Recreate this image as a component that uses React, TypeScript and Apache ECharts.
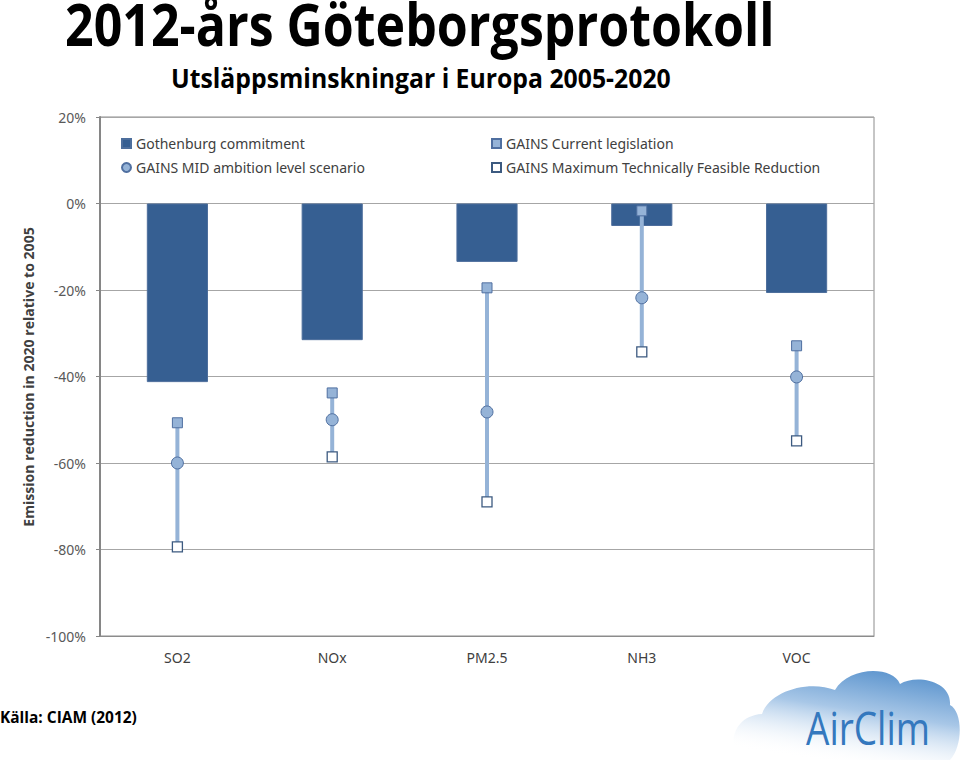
import React, { useEffect, useRef } from "react";
import * as echarts from "echarts";

const categories = ["SO2", "NOx", "PM2.5", "NH3", "VOC"];
const gothenburgCommitment = [-41.3, -31.6, -13.5, -5.2, -20.7];
const currentLegislation = [-50.7, -43.8, -19.5, -1.7, -32.9];
const midAmbition = [-60.0, -50.0, -48.2, -21.8, -40.1];
const maxFeasible = [-79.4, -58.6, -69.0, -34.3, -54.9];
const yMin = -100;
const yMax = 20;
const yStep = 20;

const titleText = "2012-års Göteborgsprotokoll";
const subtitleText = "Utsläppsminskningar i Europa 2005-2020";
const sourceText = "Källa: CIAM (2012)";
const yAxisTitle = "Emission reduction in 2020 relative to 2005";
const logoText = "AirClim";

const seriesNames = {
  bar: "Gothenburg commitment",
  cle: "GAINS Current legislation",
  mid: "GAINS MID ambition level scenario",
  mtfr: "GAINS Maximum Technically Feasible Reduction",
};

const cloudPath =
  "M 745 760 C 726 752 730 716 762 714 C 770 690 810 680 835 690 C 848 667 892 665 900 684 C 915 674 952 680 950 705 C 963 712 963 746 950 760 Z";

let cloudRegistered = false;
function registerCloud() {
  if (cloudRegistered) return;
  echarts.graphic.registerShape("cloud", echarts.graphic.extendPath(cloudPath, {}) as any);
  cloudRegistered = true;
}

function measure(text: string, font: string): number {
  const ctx = document.createElement("canvas").getContext("2d");
  if (!ctx) return text.length * 10;
  ctx.font = font;
  return ctx.measureText(text).width;
}

function fittedText(opts: {
  text: string;
  x: number;
  y: number;
  width: number;
  fontSize: number;
  weight: string;
  family: string;
  color: string;
  align: "left" | "center";
  rotation?: number;
}) {
  const font = `${opts.weight} ${opts.fontSize}px ${opts.family}`;
  const w = measure(opts.text, font);
  return {
    type: "group",
    x: opts.x,
    y: opts.y,
    rotation: opts.rotation || 0,
    scaleX: opts.width / w,
    scaleY: 1,
    children: [
      {
        type: "text",
        x: 0,
        y: 0,
        style: {
          text: opts.text,
          font,
          fill: opts.color,
          textAlign: opts.align,
          textVerticalAlign: "middle",
        },
      },
    ],
  };
}

export default function App() {
  const ref = useRef<HTMLDivElement>(null);

  useEffect(() => {
    if (!ref.current) return;
    registerCloud();
    const chart = echarts.init(ref.current, null, { renderer: "svg" });

    const rangeData = categories.map((_, i) => [i, currentLegislation[i], maxFeasible[i]]);
    const family = '"Open Sans", "Noto Sans", sans-serif';

    const legendText = { fontFamily: "Noto Sans", fontSize: 14, color: "#404040", lineHeight: 17 };

    const option: any = {
      animation: false,
      backgroundColor: "#ffffff",
      grid: {
        left: 100,
        right: 86,
        top: 117,
        bottom: 126,
        show: true,
        borderColor: "#8c8c8c",
        borderWidth: 1,
      },
      legend: [
        {
          left: 116,
          top: 130,
          orient: "vertical",
          itemWidth: 9,
          itemHeight: 9,
          itemGap: 7,
          textStyle: legendText,
          data: [{ name: seriesNames.bar, icon: "rect" }, { name: seriesNames.mid }],
        },
        {
          left: 486,
          top: 130,
          orient: "vertical",
          itemWidth: 9,
          itemHeight: 9,
          itemGap: 7,
          textStyle: legendText,
          data: [{ name: seriesNames.cle }, { name: seriesNames.mtfr }],
        },
      ],
      xAxis: {
        type: "category",
        data: categories,
        axisLine: { onZero: false, show: true, lineStyle: { color: "#8c8c8c", width: 1 } },
        axisTick: { show: false },
        axisLabel: { margin: 14, fontFamily: "Noto Sans", fontSize: 14, color: "#404040" },
        splitLine: { show: false },
      },
      yAxis: {
        type: "value",
        min: yMin,
        max: yMax,
        interval: yStep,
        axisLine: { show: true, lineStyle: { color: "#868686", width: 2 } },
        axisTick: { show: true, length: 4, lineStyle: { color: "#868686", width: 1 } },
        axisLabel: {
          formatter: "{value}%",
          margin: 14,
          fontFamily: "Noto Sans",
          fontSize: 14,
          color: "#595959",
        },
        splitLine: { show: true, lineStyle: { color: "#a6a6a6", width: 1 } },
      },
      series: [
        {
          name: seriesNames.bar,
          type: "bar",
          data: gothenburgCommitment,
          barWidth: "39.5%",
          itemStyle: { color: "#365f92", borderColor: "#4d6e9c", borderWidth: 1 },
          z: 2,
        },
        {
          name: "range",
          type: "custom",
          data: rangeData,
          encode: { x: 0, y: [1, 2] },
          renderItem: (_params: any, api: any) => {
            const a = api.coord([api.value(0), api.value(1)]);
            const b = api.coord([api.value(0), api.value(2)]);
            return {
              type: "line",
              shape: { x1: a[0], y1: a[1], x2: b[0], y2: b[1] },
              style: { stroke: "#95b3d7", lineWidth: 4 },
            };
          },
          z: 3,
        },
        {
          name: seriesNames.cle,
          type: "scatter",
          data: currentLegislation,
          symbol: "rect",
          symbolSize: 10,
          itemStyle: { color: "#95b3d7", borderColor: "#4f6fa0", borderWidth: 1, opacity: 1 },
          z: 4,
        },
        {
          name: seriesNames.mid,
          type: "scatter",
          data: midAmbition,
          symbol: "circle",
          symbolSize: 12,
          itemStyle: { color: "#95b3d7", borderColor: "#4f6fa0", borderWidth: 1, opacity: 1 },
          z: 4,
        },
        {
          name: seriesNames.mtfr,
          type: "scatter",
          data: maxFeasible,
          symbol: "rect",
          symbolSize: 10,
          itemStyle: { color: "#ffffff", borderColor: "#3c5a80", borderWidth: 1.3, opacity: 1 },
          z: 4,
        },
      ],
      graphic: [
        {
          type: "cloud",
          x: 0,
          y: 0,
          z: 0,
          style: {
            fill: new echarts.graphic.LinearGradient(0.75, 0, 0.35, 1, [
              { offset: 0, color: "#5a93cd" },
              { offset: 0.45, color: "#a8c7e7" },
              { offset: 1, color: "rgba(255,255,255,0)" },
            ]),
          },
        },
        fittedText({
          text: titleText,
          x: 65,
          y: 23,
          width: 710,
          fontSize: 59,
          weight: "bold",
          family,
          color: "#000000",
          align: "left",
        }),
        fittedText({
          text: subtitleText,
          x: 171,
          y: 78,
          width: 500,
          fontSize: 27,
          weight: "bold",
          family,
          color: "#000000",
          align: "left",
        }),
        fittedText({
          text: sourceText,
          x: 0,
          y: 717,
          width: 137,
          fontSize: 16,
          weight: "bold",
          family,
          color: "#000000",
          align: "left",
        }),
        fittedText({
          text: yAxisTitle,
          x: 28,
          y: 377,
          width: 300,
          fontSize: 15,
          weight: "bold",
          family,
          color: "#3f3f3f",
          align: "center",
          rotation: Math.PI / 2,
        }),
        fittedText({
          text: logoText,
          x: 806,
          y: 727,
          width: 124,
          fontSize: 46,
          weight: "normal",
          family,
          color: "#3478be",
          align: "left",
        }),
      ],
    };

    chart.setOption(option);
    return () => chart.dispose();
  }, []);

  return (
    <div
      ref={ref}
      style={{ position: "fixed", left: 0, top: 0, width: 960, height: 762, background: "#fff" }}
    />
  );
}
